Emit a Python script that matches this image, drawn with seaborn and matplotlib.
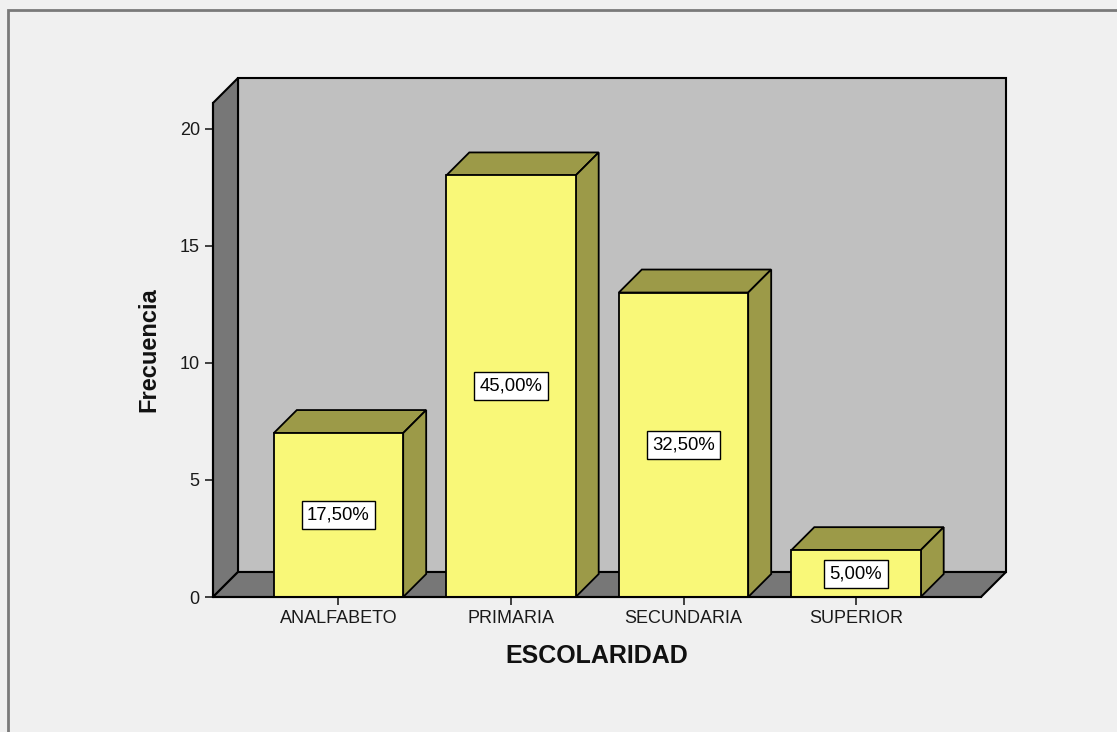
import matplotlib
matplotlib.use("Agg")
import matplotlib.pyplot as plt
from matplotlib.patches import Polygon, Rectangle
import seaborn as sns

# Data
categories = ["ANALFABETO", "PRIMARIA", "SECUNDARIA", "SUPERIOR"]
counts = [7, 18, 13, 2]
y_ticks = [0, 5, 10, 15, 20]

FRONT = "#f9f878"
SHADE = "#9c9a48"
WALL = "#c0c0c0"
DARK = "#777777"
BG = "#f0f0f0"

sns.set_style("white")
plt.rcParams["font.family"] = ["Liberation Sans", "DejaVu Sans"]

W, H = 1117, 732
fig = plt.figure(figsize=(W / 100, H / 100), dpi=100, facecolor=BG)

# axes = front plane of the 3D box (pixel positions from the reference)
ax_l, ax_r, ax_b, ax_t = 213, 981, 597, 103
ax = fig.add_axes([ax_l / W, 1 - ax_b / H, (ax_r - ax_l) / W, (ax_b - ax_t) / H])
ax.set_facecolor("none")

xmin, xmax = -0.7275, 3.7246
ymax = (ax_b - ax_t) / 23.42
px_x = (xmax - xmin) / (ax_r - ax_l)
px_y = ymax / (ax_b - ax_t)

wall_dx, wall_dy = 25 * px_x, 25 * px_y
bar_dx, bar_dy = 23 * px_x, 23 * px_y

# walls and floor
back = Rectangle((xmin + wall_dx, wall_dy), xmax - xmin, ymax, facecolor=WALL,
                 edgecolor="black", lw=1.5, zorder=0, clip_on=False)
left = Polygon([(xmin, 0), (xmin, ymax), (xmin + wall_dx, ymax + wall_dy),
                (xmin + wall_dx, wall_dy)], closed=True, facecolor=DARK,
               edgecolor="black", lw=1.5, zorder=1, clip_on=False)
floor = Polygon([(xmin, 0), (xmax, 0), (xmax + wall_dx, wall_dy),
                 (xmin + wall_dx, wall_dy)], closed=True, facecolor=DARK,
                edgecolor="black", lw=1.5, zorder=1, clip_on=False)
for p in (back, left, floor):
    ax.add_patch(p)

sns.barplot(x=categories, y=counts, color=FRONT, saturation=1, width=0.75,
            edgecolor="black", linewidth=1.3, ax=ax, zorder=4)

total = sum(counts)
for bar, v in zip(ax.patches[-len(counts):], counts):
    x0 = bar.get_x()
    x1 = x0 + bar.get_width()
    h = bar.get_height()
    top = Polygon([(x0, h), (x1, h), (x1 + bar_dx, h + bar_dy), (x0 + bar_dx, h + bar_dy)],
                  closed=True, facecolor=SHADE, edgecolor="black", lw=1.3, zorder=3,
                  clip_on=False)
    side = Polygon([(x1, 0), (x1, h), (x1 + bar_dx, h + bar_dy), (x1 + bar_dx, bar_dy)],
                   closed=True, facecolor=SHADE, edgecolor="black", lw=1.3, zorder=3,
                   clip_on=False)
    ax.add_patch(top)
    ax.add_patch(side)
    pct = f"{v / total * 100:.2f}%".replace(".", ",")
    ax.text((x0 + x1) / 2, h / 2, pct, ha="center", va="center", fontsize=13.3,
            color="black", zorder=6,
            bbox=dict(boxstyle="square,pad=0.3", facecolor="white",
                      edgecolor="black", lw=1))

ax.set_xlim(xmin, xmax)
ax.set_ylim(0, ymax)
ax.set_yticks(y_ticks)
ax.tick_params(axis="both", direction="out", length=6, width=1.2, color="#222222",
               labelsize=13, labelcolor="#1a1a1a", left=True, bottom=True)
for s in ("top", "right"):
    ax.spines[s].set_visible(False)
for s in ("left", "bottom"):
    ax.spines[s].set_color("black")
    ax.spines[s].set_linewidth(1.5)
    ax.spines[s].set_zorder(5)

ax.set_xlabel("ESCOLARIDAD", fontsize=18, fontweight="bold", labelpad=12, color="#111111")
ax.set_ylabel("Frecuencia", fontsize=17, fontweight="bold", labelpad=14, color="#111111")

# outer frame of the SPSS output window
fig.patches.append(Rectangle((8 / W, -0.5), 2, 1 - 10 / H + 0.5, transform=fig.transFigure,
                             fill=False, edgecolor="#7a7a7a", lw=2))

fig.savefig("out.png", dpi=100, facecolor=BG)
